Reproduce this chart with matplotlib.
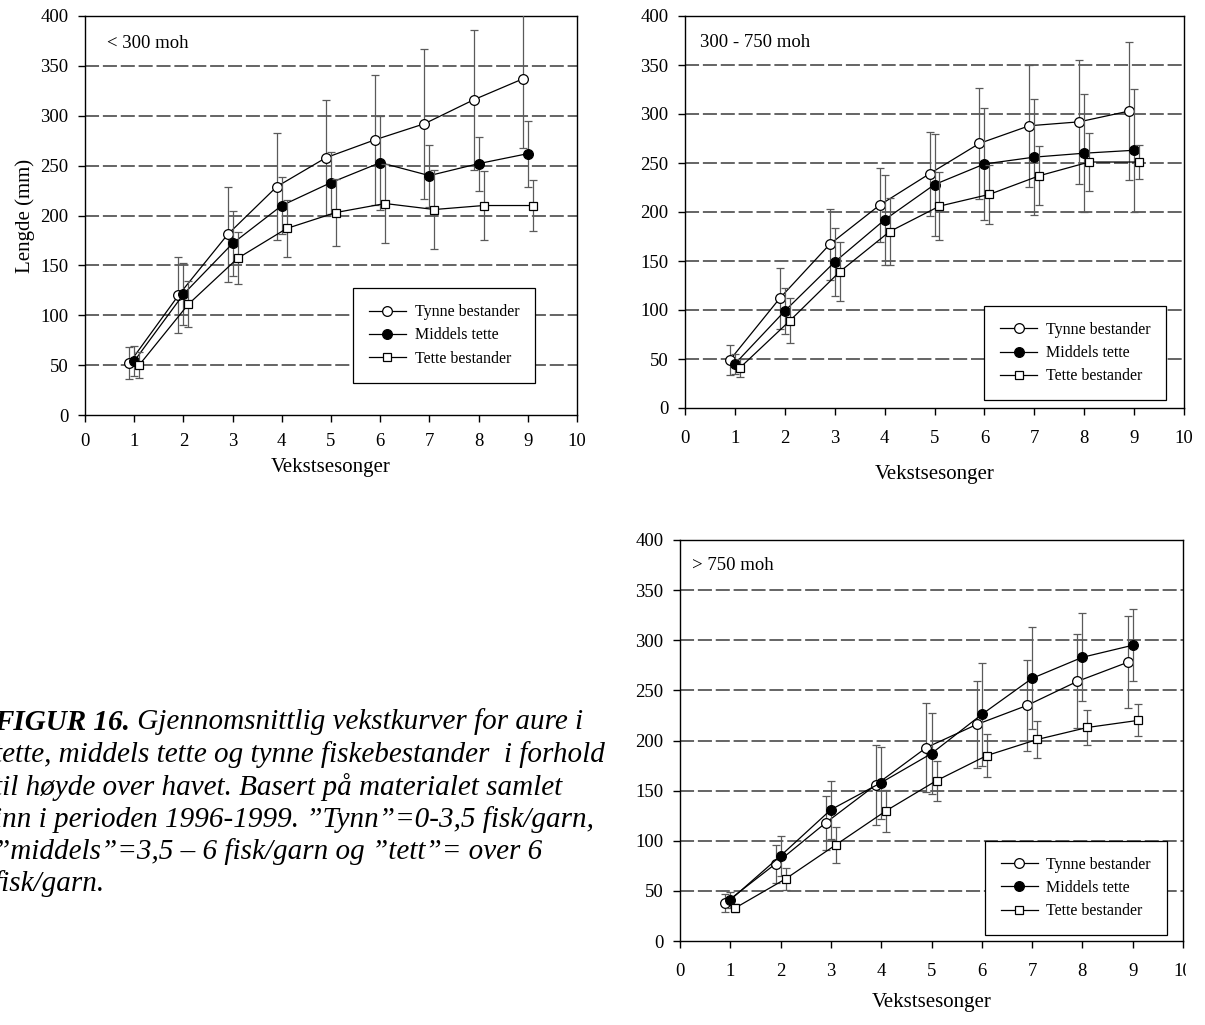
import matplotlib
matplotlib.use("Agg")
import matplotlib.pyplot as plt
from matplotlib.transforms import Bbox

plt.rcParams['font.family'] = ['Liberation Serif', 'DejaVu Serif']

# ---------------- data ----------------
seasons = [1, 2, 3, 4, 5, 6, 7, 8, 9]
series_labels = ["Tynne bestander", "Middels tette", "Tette bestander"]
panel_titles = ["< 300 moh", "300 - 750 moh", "> 750 moh"]
xlabel_text = "Vekstsesonger"
ylabel_text = "Lengde (mm)"

# < 300 moh
low_tynne = [52, 120, 181, 229, 258, 276, 292, 316, 337]
low_tynne_err = [16, 38, 48, 54, 58, 65, 75, 70, 69]
low_middels = [54, 121, 172, 210, 233, 253, 240, 252, 262]
low_middels_err = [15, 31, 33, 29, 31, 47, 31, 27, 33]
low_tette = [50, 111, 157, 187, 203, 212, 206, 210, 210]
low_tette_err = [13, 23, 26, 29, 34, 40, 40, 35, 26]

# 300 - 750 moh
mid_tynne = [49, 112, 167, 207, 239, 270, 288, 292, 303]
mid_tynne_err = [15, 31, 36, 38, 43, 57, 62, 63, 70]
mid_middels = [45, 99, 149, 192, 228, 249, 256, 260, 263]
mid_middels_err = [10, 23, 35, 46, 52, 57, 59, 60, 63]
mid_tette = [41, 89, 139, 180, 206, 218, 237, 251, 251]
mid_tette_err = [9, 23, 30, 34, 35, 30, 30, 30, 17]

# > 750 moh
high_tynne = [38, 77, 118, 156, 193, 216, 235, 259, 278]
high_tynne_err = [9, 19, 27, 40, 44, 43, 45, 47, 46]
high_middels = [41, 85, 131, 158, 187, 226, 262, 283, 295]
high_middels_err = [8, 20, 29, 36, 40, 51, 51, 44, 36]
high_tette = [33, 62, 96, 130, 160, 185, 201, 213, 220]
high_tette_err = [4, 11, 18, 21, 20, 21, 18, 17, 16]

caption_bold = "FIGUR 16."
caption_first_rest = " Gjennomsnittlig vekstkurver for aure i"
caption_lines = [
    "tette, middels tette og tynne fiskebestander  i forhold",
    "til høyde over havet. Basert på materialet samlet",
    "inn i perioden 1996-1999. \u201dTynn\u201d=0-3,5 fisk/garn,",
    "\u201dmiddels\u201d=3,5 \u2013 6 fisk/garn og \u201dtett\u201d= over 6",
    "fisk/garn.",
]

# ---------------- figure ----------------
W, H = 1205, 1025
fig = plt.figure(figsize=(W / 100, H / 100), dpi=100)


def axes_px(left, top, right, bottom):
    return fig.add_axes([left / W, 1 - bottom / H, (right - left) / W, (bottom - top) / H])


ax_low = axes_px(85, 16, 577, 415)
ax_mid = axes_px(685, 16, 1184, 408)
ax_high = axes_px(680, 540, 1183, 941)

offsets = [-0.1, 0.0, 0.1]
face_colors = ["white", "black", "white"]
markers = ["o", "o", "s"]
marker_sizes = [7.0, 7.0, 6.3]

panels = [
    (ax_low, [(low_tynne, low_tynne_err), (low_middels, low_middels_err), (low_tette, low_tette_err)],
     panel_titles[0], (0.45, 372), (5.45, 127)),
    (ax_mid, [(mid_tynne, mid_tynne_err), (mid_middels, mid_middels_err), (mid_tette, mid_tette_err)],
     panel_titles[1], (0.31, 373), (6.0, 104)),
    (ax_high, [(high_tynne, high_tynne_err), (high_middels, high_middels_err), (high_tette, high_tette_err)],
     panel_titles[2], (0.23, 375), (6.06, 100)),
]

for ax, series, title, title_pos, leg_pos in panels:
    handles = []
    for i, (vals, errs) in enumerate(series):
        xs = [s + offsets[i] for s in seasons]
        cont = ax.errorbar(xs, vals, yerr=errs, fmt='-', marker=markers[i], color='black',
                           ecolor='#5a5a5a', mfc=face_colors[i], mec='black', mew=0.9,
                           ms=marker_sizes[i], lw=0.9, elinewidth=0.9, capsize=3.2,
                           capthick=0.9, zorder=3 + i)
        handles.append(cont[0])
    ax.set_xlim(0, 10)
    ax.set_ylim(0, 400)
    ax.set_xticks(range(0, 11))
    ax.set_yticks(range(0, 401, 50))
    for yv in range(50, 400, 50):
        ax.axhline(yv, color='#3a3a3a', lw=1.1, linestyle=(0, (9.2, 2.5)), zorder=1)
    for sp in ax.spines.values():
        sp.set_linewidth(1.0)
        sp.set_color('black')
    ax.tick_params(direction='out', length=5, width=1, labelsize=13.5, colors='black')
    ax.text(title_pos[0], title_pos[1], title, fontsize=13.5, va='center', ha='left')
    leg = ax.legend(handles, series_labels, loc='upper left', bbox_to_anchor=leg_pos,
                    bbox_transform=ax.transData,
                    fancybox=False, edgecolor='black', framealpha=1, fontsize=11.5,
                    handlelength=2.3, handletextpad=0.55, labelspacing=0.45,
                    borderpad=1.0, borderaxespad=0)
    leg.get_frame().set_linewidth(0.9)
    leg.set_zorder(10)

ax_low.tick_params(axis='x', pad=8)
ax_mid.tick_params(axis='x', pad=11)
ax_high.tick_params(axis='x', pad=11)
for ax in (ax_low, ax_mid, ax_high):
    ax.tick_params(axis='y', pad=7)

ax_low.set_xlabel(xlabel_text, fontsize=15, labelpad=6)
ax_mid.set_xlabel(xlabel_text, fontsize=15, labelpad=13)
ax_high.set_xlabel(xlabel_text, fontsize=15, labelpad=9)
ax_low.set_ylabel(ylabel_text, fontsize=15, labelpad=4)

# caption
cap_size = 21
t0 = fig.text(-6 / W, 1 - 722 / H, caption_bold, fontsize=cap_size, fontweight='bold',
              fontstyle='italic', va='center', ha='left')
ax_low.annotate(caption_first_rest, xy=(1, 0.5), xycoords=t0, fontsize=cap_size,
                fontstyle='italic', va='center', ha='left', annotation_clip=False)
line_step = 32.4
for k, line in enumerate(caption_lines):
    fig.text(-6 / W, 1 - (722 + line_step * (k + 1)) / H, line, fontsize=cap_size,
             fontstyle='italic', va='center', ha='left')

# clip the partially cut "10" tick label of the lower panel at the image edge
fig.canvas.draw()
clip = Bbox.from_extents(0, 0, 1186, H)
for lab in ax_high.get_xticklabels():
    lab.set_clip_box(clip)
    lab.set_clip_on(True)

fig.savefig("out.png", dpi=100)
